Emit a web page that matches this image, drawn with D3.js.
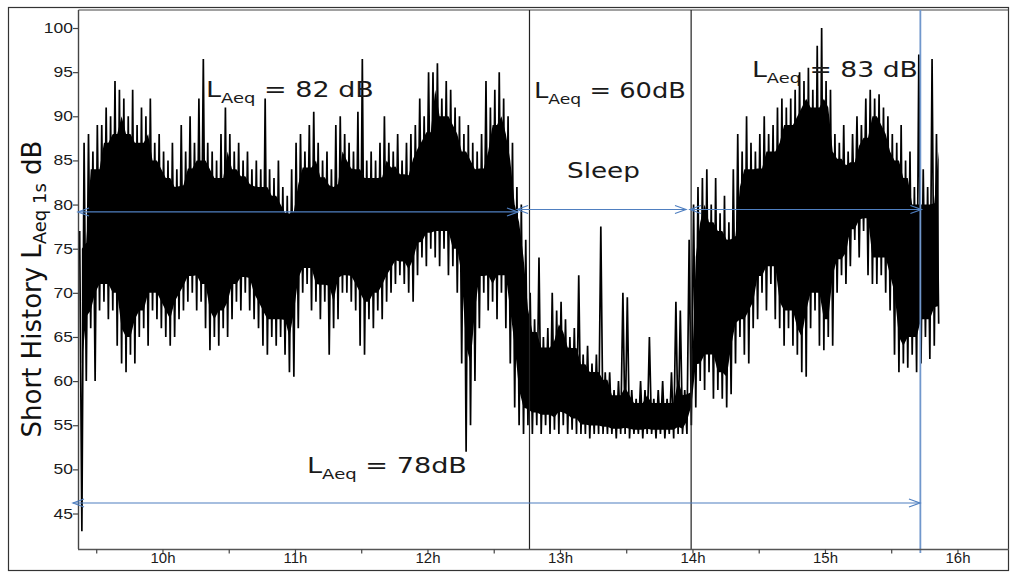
<!DOCTYPE html>
<html>
<head>
<meta charset="utf-8">
<script src="https://cdn.jsdelivr.net/npm/d3@7"></script>
<style>
body{margin:0;background:#fff;}
svg{display:block;}
</style>
</head>
<body>
<svg id="chart" width="1011" height="573"></svg>
<script>
// 1 s short history, read off the picture as 2-minute bins starting 9:22:30
// first minute of each bin = peak, second minute = trough (dB)
var startMin = 562.5;
var peaks = [
    77, 87, 88, 86, 89, 89, 91, 90, 94, 93,
    92, 90, 93, 89, 91, 90, 92, 87, 88, 86,
    85, 87, 84, 89, 86, 90, 87, 92, 96.5, 87,
    86, 85, 88, 91, 88, 86, 87, 85, 86, 84,
    85, 84, 92, 84, 83, 85, 82, 81, 84, 87,
    88, 86, 89, 90.5, 87, 85, 86, 84, 89, 90,
    88, 87, 86, 90.5, 96.5, 85, 86, 85, 87, 90,
    87, 86, 88, 85, 87, 88, 89, 92, 90, 95,
    95, 96, 92, 94, 93, 91, 90, 88, 89, 87,
    86, 88, 94, 91, 93, 95, 92, 90, 87, 82,
    80, 76, 70, 67, 74, 65, 66, 70, 68, 69,
    67, 65, 66, 72, 63, 64, 62, 63, 77.5, 61,
    61, 59, 60, 70, 69.5, 59, 58, 60, 59, 65,
    58, 59, 60, 58, 61, 69, 68, 59, 76, 80,
    82, 83, 84, 80, 83, 79, 81, 78, 84, 88,
    86, 90, 87, 86, 88, 90, 88, 89, 91, 92,
    91, 92, 93, 95, 94, 95.5, 93, 98, 100, 94,
    93, 88, 87, 89, 86, 88, 90, 89, 92, 93,
    92, 92.5, 91, 90, 88, 87, 89, 85, 86, 82,
    97, 84, 82, 96.5, 88
];
var troughs = [
    43, 60, 66, 60, 68, 69, 67, 68, 64, 62,
    61, 63, 62, 65, 66, 64, 68, 67, 66, 65,
    64, 65, 67, 68, 69, 70, 68, 69, 66, 63.5,
    65, 64, 66, 65, 67, 69, 68, 70, 68, 67,
    66, 64, 63, 65, 64, 65, 63, 61, 60.5, 66,
    70, 71, 68, 69, 67, 69, 63, 66, 67, 70,
    70, 69, 68, 64, 63, 67, 66, 68, 67, 69,
    70, 71, 72, 71, 70, 69, 72, 74, 73, 75,
    74, 73, 75, 72, 73, 70, 62, 52, 55, 60,
    66, 70, 68, 69, 67, 70, 66, 62, 57, 55,
    54, 55, 54, 55, 54, 55, 54, 54.5, 54, 55,
    54, 54.5, 54, 54, 54, 53.5, 54, 54, 54, 54,
    54, 53.5, 54, 54, 53.5, 54, 54, 53.5, 54, 54,
    53.5, 54, 53.5, 54, 53.5, 54, 54, 54, 55, 57,
    60, 59, 61, 58, 59, 58, 57, 58.5, 62, 65,
    63, 62, 66, 67, 70, 68, 71, 67, 66, 64,
    66, 64, 63, 61, 60.5, 66, 68, 64, 63.5, 65,
    64, 70, 72, 71, 73, 76, 74, 77, 72, 71,
    71, 72, 70, 68, 63, 61, 62, 61.5, 63, 61,
    62, 65, 62.5, 64, 66.5
];
var yTicks = [45, 50, 55, 60, 65, 70, 75, 80, 85, 90, 95, 100];
var hourTicks = [9.5, 10, 10.5, 11, 11.5, 12, 12.5, 13, 13.5, 14, 14.5, 15, 15.5, 16];
// period boundaries (hours)
var sleepMarks = [12.77, 13.99];
var endMark = 15.72;
// LAeq arrows: start, end (hours), level (dB)
var arrowFrom = [9.3625, 12.676, 13.981, 9.325];
var arrowTo = [12.683, 13.951, 15.728, 15.717];
var arrowLevel = [79.16, 79.44, 79.44, 46.19];
// LAeq per period
var laeqText = ["=  82 dB", "= 60dB", "=  83 dB", "=  78dB"];

var svg = d3.select("#chart");
var plotL = 79, plotR = 1009, plotT = 10, plotB = 549;

var x = d3.scaleLinear().domain([9.37, 16.389]).range([plotL, plotR]);
var y = d3.scaleLinear().domain([40.98, 102.04]).range([plotB, plotT]);

// outer border
svg.append("rect")
    .attr("x", 8.5).attr("y", 7.5)
    .attr("width", 1000).attr("height", 563)
    .attr("fill", "none").attr("stroke", "#333").attr("stroke-width", 1.2);

// series: alternating peak / trough, one reading per minute
var series = [];
peaks.forEach(function (p, k) {
    series.push({t: (startMin + 2 * k) / 60, v: p});
    series.push({t: (startMin + 2 * k + 1) / 60, v: troughs[k]});
});
// dense middle of the trace, kept a little inside the neighbouring peaks / troughs
var core = peaks.map(function (p, k) {
    var lo = Math.max(0, k - 1), hi = Math.min(peaks.length, k + 2);
    var top = d3.min(peaks.slice(lo, hi)), bot = d3.max(troughs.slice(lo, hi));
    var pad = Math.max(0, Math.min(2, (top - bot) * 0.12));
    return {t: (startMin + 2 * k + 1) / 60, top: top - pad, bot: Math.min(bot + pad, top - pad)};
});
svg.append("path")
    .datum(core)
    .attr("d", d3.area()
        .x(function (d) { return x(d.t); })
        .y0(function (d) { return y(d.bot); })
        .y1(function (d) { return y(d.top); }))
    .attr("fill", "#000");
svg.append("path")
    .datum(series)
    .attr("d", d3.line()
        .x(function (d) { return x(d.t); })
        .y(function (d) { return y(d.v); }))
    .attr("fill", "none")
    .attr("stroke", "#000")
    .attr("stroke-width", 1.7)
    .attr("stroke-linejoin", "bevel");

// frame of the plot
svg.append("line").attr("x1", plotL - 0.5).attr("x2", plotR).attr("y1", plotT).attr("y2", plotT)
    .attr("stroke", "#444").attr("stroke-width", 1.2);
svg.append("line").attr("x1", plotL - 0.5).attr("x2", plotL - 0.5).attr("y1", plotT).attr("y2", plotB)
    .attr("stroke", "#444").attr("stroke-width", 1.4);

// period boundaries
svg.selectAll("line.mark")
    .data(sleepMarks)
    .enter().append("line")
    .attr("class", "mark")
    .attr("x1", function (d) { return x(d); })
    .attr("x2", function (d) { return x(d); })
    .attr("y1", plotT).attr("y2", plotB)
    .attr("stroke", "#222").attr("stroke-width", 1.2);
svg.append("line")
    .attr("x1", x(endMark)).attr("x2", x(endMark))
    .attr("y1", plotT).attr("y2", plotB + 4)
    .attr("stroke", "#7097cc").attr("stroke-width", 1.8);

// arrows
var blue = "#4f7fc0";
arrowFrom.forEach(function (a, i) {
    var x1 = x(a), x2 = x(arrowTo[i]), yy = y(arrowLevel[i]);
    var g = svg.append("g").attr("stroke", blue).attr("fill", "none").attr("stroke-width", 1.2);
    g.append("line").attr("x1", x1).attr("x2", x2).attr("y1", yy).attr("y2", yy);
    g.append("path").attr("d", "M" + (x1 + 11) + "," + (yy - 4) + "L" + x1 + "," + yy + "L" + (x1 + 11) + "," + (yy + 4));
    g.append("path").attr("d", "M" + (x2 - 11) + "," + (yy - 4) + "L" + x2 + "," + yy + "L" + (x2 - 11) + "," + (yy + 4));
});

// y axis
var yAxis = d3.axisLeft(y).tickValues(yTicks).tickSize(5).tickSizeOuter(0);
var gy = svg.append("g").attr("transform", "translate(" + (plotL - 1) + ",0)").call(yAxis);
gy.select(".domain").remove();
gy.selectAll(".tick line").attr("stroke", "#444").attr("stroke-width", 1.2);
gy.selectAll(".tick text")
    .attr("font-family", "'Liberation Sans', Arial, sans-serif")
    .attr("font-size", 14)
    .attr("fill", "#1b1b1b")
    .attr("x", -5 / 1.25)
    .attr("transform", "scale(1.25,1)");

// x axis
var xAxis = d3.axisBottom(x).tickValues(hourTicks).tickSize(4).tickSizeOuter(0).tickPadding(0)
    .tickFormat(function (d) { return d % 1 === 0 ? d + "h" : ""; });
var gx = svg.append("g").attr("transform", "translate(0," + (plotB + 0.5) + ")").call(xAxis);
gx.select(".domain").attr("stroke", "#555").attr("stroke-width", 1.6)
    .attr("d", "M" + (plotL - 1) + ",0H" + plotR);
gx.selectAll(".tick line").attr("stroke", "#444").attr("stroke-width", 1.2);
gx.selectAll(".tick text")
    .attr("font-family", "'Liberation Sans', Arial, sans-serif")
    .attr("font-size", 14)
    .attr("fill", "#1b1b1b")
    .attr("transform", "scale(1.07,1)");

// y title
var yt = svg.append("text")
    .attr("font-family", "'Liberation Sans Narrow', 'DejaVu Sans Condensed', 'Open Sans', sans-serif")
    .attr("font-size", 26)
    .attr("fill", "#111")
    .attr("text-anchor", "middle");
yt.append("tspan").text("Short History L");
yt.append("tspan").attr("font-size", 18).attr("dy", 5).text("Aeq 1s");
yt.append("tspan").attr("dy", -5).text(" dB");
var ytLen = yt.node().getBBox().width;
yt.attr("transform", "translate(41,289) rotate(-90) scale(" + (297 / ytLen) + ",1)");

// annotations: left, right, baseline (px)
function laeq(txt, left, right, base) {
    var t = svg.append("text")
        .attr("font-family", "'DejaVu Sans', Verdana, sans-serif")
        .attr("font-size", 21)
        .attr("fill", "#1a1a1a");
    t.append("tspan").text("L");
    t.append("tspan").attr("font-size", 14).attr("dy", 6).text("Aeq");
    t.append("tspan").attr("dy", -6).text(" " + txt);
    var w = t.node().getBBox().width;
    t.attr("transform", "translate(" + left + "," + base + ") scale(" + ((right - left) / w) + ",1)");
}
laeq(laeqText[0], 206, 374, 97);
laeq(laeqText[1], 534, 686, 98);
laeq(laeqText[2], 752, 918, 77);
laeq(laeqText[3], 307, 467, 473);

var sl = svg.append("text")
    .attr("font-family", "'DejaVu Sans', Verdana, sans-serif")
    .attr("font-size", 21)
    .attr("fill", "#1a1a1a")
    .text("Sleep");
var slw = sl.node().getBBox().width;
sl.attr("transform", "translate(567,178) scale(" + (73 / slw) + ",1)");
</script>
</body>
</html>
